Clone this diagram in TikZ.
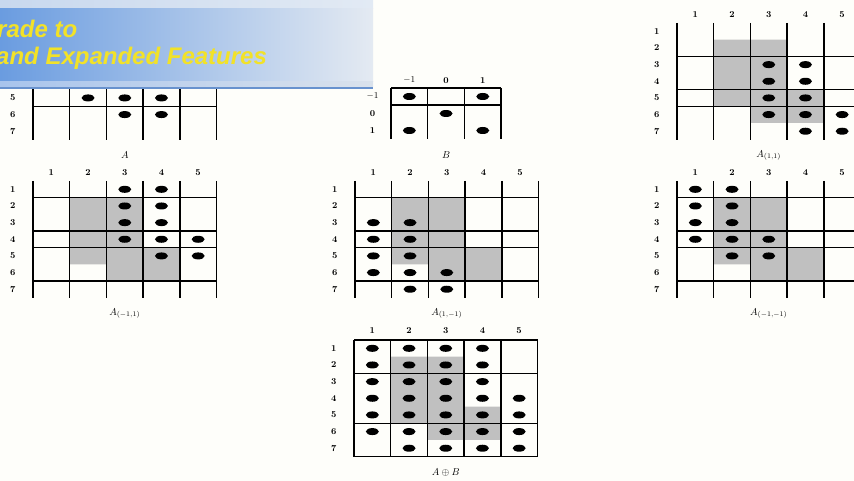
\documentclass[tikz,border=0pt]{standalone}
\usepackage{fontspec}
\newfontfamily\bannerfont{Liberation Sans}
\usepackage{tikz}
\definecolor{mmpaper}{RGB}{254,254,250}
\definecolor{mmgray}{RGB}{192,192,192}
\definecolor{bntop}{RGB}{200,216,238}
\definecolor{bntopr}{RGB}{226,234,244}
\definecolor{bnleft}{RGB}{106,156,224}
\definecolor{bnmid}{RGB}{170,196,234}
\definecolor{bnright}{RGB}{228,234,242}
\definecolor{bnlow}{RGB}{168,196,236}
\definecolor{bnlowr}{RGB}{218,226,236}
\definecolor{bnedge}{RGB}{104,146,206}
\definecolor{bnyellow}{RGB}{242,226,40}
\tikzset{
  mmat/.style 2 args={shift={(#1,#2)}, x=36.7pt, y=-16.65pt},
  mmline/.style={line width=1.4pt, black},
  mmfill/.style={fill=mmgray},
  mmdot/.style={fill=black},
  mmnum/.style={font=\fontsize{9}{10}\selectfont\bfseries, inner sep=0pt},
  mmlab/.style={font=\fontsize{10}{12}\selectfont, inner sep=0pt},
  mmbanner/.style={font=\bannerfont\bfseries\itshape\fontsize{24}{28}\selectfont,
                   text=bnyellow, inner sep=0pt, anchor=base west}
}
\def\adots{2/2,2/3,2/4,2/5,3/2,3/3,3/4,3/5,3/6,4/5,4/6}

\begin{document}
\begin{tikzpicture}[x=1pt, y=-1pt]
  \useasboundingbox (0,0) rectangle (854,481);
  \clip (0,0) rectangle (854,481);
  \fill[mmpaper] (0,0) rectangle (854,481);

  \begin{scope}[mmat={33}{23}]
    \foreach \c in {0,...,5} \draw[mmline] (\c,0) -- (\c,7);
    \draw[mmline] (0,5) -- (5,5);
    \foreach \c/\r in \adots \fill[mmdot] (\c-0.5,\r-0.5) ellipse [x radius=6.5pt, y radius=3.5pt];
    \foreach \r in {5,6,7} \node[mmnum] (a-r\r) at (-0.55,\r-0.5) {\r};
    \node[mmlab] (a-lab) at (2.5,7.95) {$A$};
  \end{scope}

  \begin{scope}[mmat={391}{88}, y=-17pt]
    \foreach \c in {0,...,3} \draw[mmline] (\c,0) -- (\c,3);
    \foreach \r in {0,1} \draw[mmline] (0,\r) -- (3,\r);
    \foreach \c/\r in {1/1,3/1,2/2,1/3,3/3} \fill[mmdot] (\c-0.5,\r-0.5) ellipse [x radius=6.5pt, y radius=3.5pt];
    \foreach \v [count=\i] in {$-1$,0,1} {
      \node[mmnum] (b-c\i) at (\i-0.5,-0.45) {\v};
      \node[mmnum] (b-r\i) at (-0.5,\i-0.5) {\v};
    }
    \node[mmlab] (b-lab) at (1.5,3.95) {$B$};
  \end{scope}

  \begin{scope}[mmat={677}{23}]
    \fill[mmfill] (1,1) -- (3,1) -- (3,4) -- (4,4) -- (4,6) -- (2,6) -- (2,5) -- (1,5) -- cycle;
    \foreach \c in {0,...,5} \draw[mmline] (\c,0) -- (\c,7);
    \foreach \r in {2,4,5} \draw[mmline] (0,\r) -- (5,\r);
    \foreach \c/\r in \adots \fill[mmdot] (\c+0.5,\r+0.5) ellipse [x radius=6.5pt, y radius=3.5pt];
    \foreach \c in {1,...,5} \node[mmnum] (p-c\c) at (\c-0.5,-0.5) {\c};
    \foreach \r in {1,...,7} \node[mmnum] (p-r\r) at (-0.55,\r-0.5) {\r};
    \node[mmlab] (p-lab) at (2.5,7.95) {$A_{(1,1)}$};
  \end{scope}

  \foreach \gx/\gn/\dc/\dr/\gs in {33/q/1/-1/{(-1,1)}, 355/r/-1/1/{(1,-1)}, 677/s/-1/-1/{(-1,-1)}} {
    \begin{scope}[mmat={\gx}{181}]
      \fill[mmfill] (1,1) -- (3,1) -- (3,4) -- (4,4) -- (4,6) -- (2,6) -- (2,5) -- (1,5) -- cycle;
      \foreach \c in {0,...,5} \draw[mmline] (\c,0) -- (\c,7);
      \foreach \r in {1,3,4,6} \draw[mmline] (0,\r) -- (5,\r);
      \foreach \c/\r in \adots \fill[mmdot] (\c+\dc-0.5,\r+\dr-0.5) ellipse [x radius=6.5pt, y radius=3.5pt];
      \foreach \c in {1,...,5} \node[mmnum] (\gn-c\c) at (\c-0.5,-0.5) {\c};
      \foreach \r in {1,...,7} \node[mmnum] (\gn-r\r) at (-0.55,\r-0.5) {\r};
      \node[mmlab] (\gn-lab) at (2.5,7.95) {$A_{\gs}$};
    \end{scope}
  }

  \begin{scope}[mmat={354}{340}]
    \fill[mmfill] (1,1) -- (3,1) -- (3,4) -- (4,4) -- (4,6) -- (2,6) -- (2,5) -- (1,5) -- cycle;
    \foreach \c in {0,...,5} \draw[mmline] (\c,0) -- (\c,7);
    \foreach \r in {0,2,5,7} \draw[mmline] (0,\r) -- (5,\r);
    \foreach \r/\cs in {1/{1,2,3,4}, 2/{1,2,3,4}, 3/{1,2,3,4}, 4/{1,...,5}, 5/{1,...,5}, 6/{1,...,5}, 7/{2,...,5}}
      \foreach \c in \cs \fill[mmdot] (\c-0.5,\r-0.5) ellipse [x radius=6.5pt, y radius=3.5pt];
    \foreach \c in {1,...,5} \node[mmnum] (u-c\c) at (\c-0.5,-0.55) {\c};
    \foreach \r in {1,...,7} \node[mmnum] (u-r\r) at (-0.55,\r-0.5) {\r};
    \node[mmlab] (u-lab) at (2.5,7.95) {$A\oplus B$};
  \end{scope}

  \shade[left color=bntop, right color=bntopr] (0,0) rectangle (373,9);
  \shade[left color=bnleft, middle color=bnmid, right color=bnright] (0,9) rectangle (373,82);
  \shade[left color=bnlow, right color=bnlowr] (0,82) rectangle (373,87);
  \fill[bnedge] (0,87) rectangle (373,89);
  \node[mmbanner] (ban-a) at (-3,38) {rade to};
  \node[mmbanner] (ban-b) at (-4,65) {and Expanded Features};
\end{tikzpicture}
\end{document}
